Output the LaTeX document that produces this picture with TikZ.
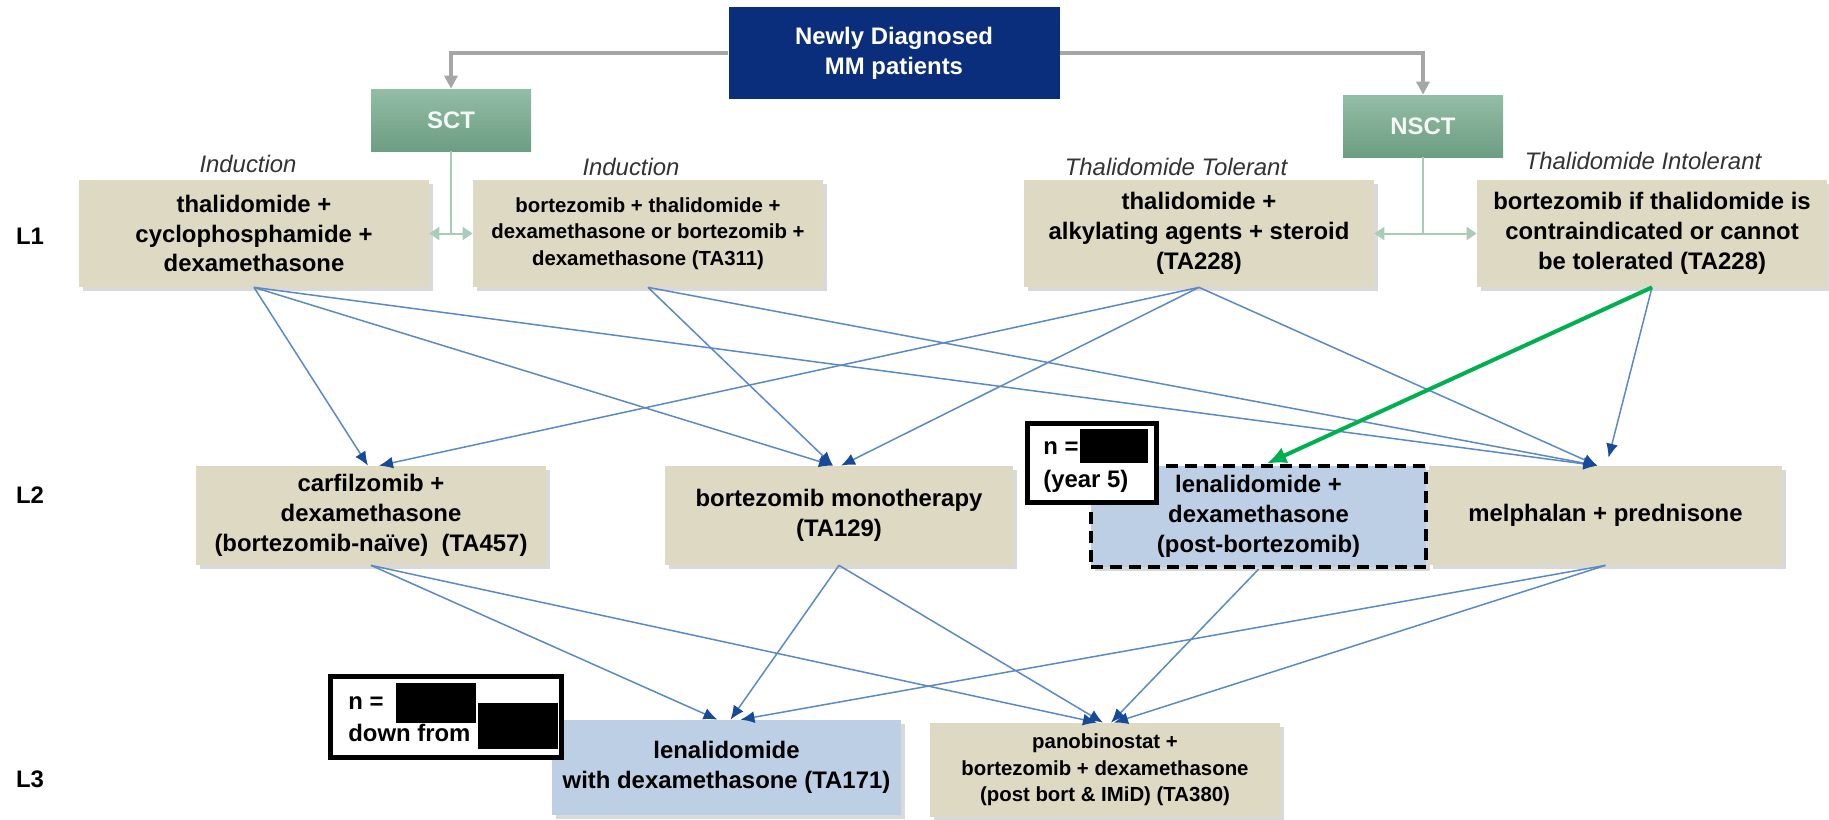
\documentclass[tikz,border=0pt]{standalone}
\usepackage{fontspec}
\setmainfont{Liberation Sans}
\usepackage{xcolor}
\usepackage{tikz}
\usetikzlibrary{shapes,arrows,positioning,calc,shadows,arrows.meta}

\definecolor{navy}{HTML}{0A2E7C}
\definecolor{tan}{HTML}{DDD9C3}
\definecolor{paleblue}{HTML}{BDCFE4}
\definecolor{armtop}{HTML}{93BDA6}
\definecolor{armbot}{HTML}{6C9D82}
\definecolor{armline}{HTML}{A9CCB9}
\definecolor{linkblue}{HTML}{5A89C4}
\definecolor{tipblue}{HTML}{174A98}
\definecolor{okgreen}{HTML}{00B050}
\definecolor{splitgray}{HTML}{A6A6A6}

\tikzset{
  bigtext/.style={font=\fontsize{13.6}{17}\selectfont\bfseries},
  smalltext/.style={font=\fontsize{11.6}{15}\selectfont\bfseries},
  tanbox/.style={fill=tan, align=center, inner sep=1mm, bigtext,
    drop shadow={shadow xshift=0.8mm, shadow yshift=-0.8mm, opacity=0.3}},
  bluebox/.style={tanbox, fill=paleblue},
  armbox/.style={top color=armtop, bottom color=armbot, text=white!90!armtop, bigtext,
    minimum width=32mm, minimum height=12.4mm},
  phase/.style={font=\fontsize{13.6}{17}\selectfont\itshape, text=black!80},
  lvl/.style={bigtext},
  link/.style={linkblue, line width=0.3mm, -{Latex[length=2.8mm,width=2.4mm,color=tipblue]}},
  split/.style={splitgray, line width=0.8mm, -{Triangle[length=2.6mm,width=2.6mm]}},
  armlink/.style={armline, line width=0.4mm},
  tag/.style={draw, line width=1mm, fill=white, inner sep=0pt}
}

\begin{document}
\begin{tikzpicture}[x=0.2mm, y=-0.2mm]
    \useasboundingbox (0,0) rectangle (1829,819);

    % top and the two arms
    \node [fill=navy, text=white, bigtext, align=center, minimum width=66.2mm, minimum height=18.4mm] (dx) at (894,53) {Newly Diagnosed\\MM patients};
    \node [armbox] (sct) at (451,120) {SCT};
    \node [armbox] (nsct) at (1423,126) {NSCT};
    \draw [split] (dx.west) -| (sct.north);
    \draw [split] (dx.east) -| (nsct.north);

    % L1
    \node [lvl] (l1) at (30,236) {L1};
    \node [tanbox, minimum width=70mm, minimum height=21.4mm] (tcd) at (254,233.5) {thalidomide +\\cyclophosphamide +\\dexamethasone};
    \node [tanbox, smalltext, minimum width=70mm, minimum height=21.4mm] (vtd) at (648,233.5) {bortezomib + thalidomide +\\dexamethasone or bortezomib +\\dexamethasone (TA311)};
    \node [tanbox, minimum width=70mm, minimum height=21.4mm] (tas) at (1199,233.5) {thalidomide +\\alkylating agents + steroid\\(TA228)};
    \node [tanbox, minimum width=70mm, minimum height=21.4mm] (bif) at (1652,233.5) {bortezomib if thalidomide is\\contraindicated or cannot\\be tolerated (TA228)};

    \node [phase] (ind1) at (248,164) {Induction};
    \node [phase] (ind2) at (631,167) {Induction};
    \node [phase] (tol) at (1176,167) {Thalidomide Tolerant};
    \node [phase] (intol) at (1643,161) {Thalidomide Intolerant};

    \draw [armlink] (sct.south) -- (sct.south |- tcd.east);
    \draw [armlink, {Triangle[length=2mm,width=2.6mm]}-{Triangle[length=2mm,width=2.6mm]}] (tcd.east) -- (vtd.west);
    \draw [armlink] (nsct.south) -- (nsct.south |- tas.east);
    \draw [armlink, {Triangle[length=2mm,width=2.6mm]}-{Triangle[length=2mm,width=2.6mm]}] (tas.east) -- (bif.west);

    % L2
    \node [lvl] (l2) at (30,495) {L2};
    \node [tanbox, minimum width=70mm, minimum height=19.8mm] (carf) at (371,515.5) {carfilzomib +\\dexamethasone\\(bortezomib-naïve)~~(TA457)};
    \node [tanbox, minimum width=69.6mm, minimum height=19.8mm] (bort) at (839,515.5) {bortezomib monotherapy\\(TA129)};
    \node [bluebox, draw=black, dashed, dash pattern=on 2.4mm off 1.4mm, line width=0.9mm, minimum width=67mm, minimum height=20.2mm] (lenb) at (1258.5,516.5) {lenalidomide +\\dexamethasone\\(post-bortezomib)};
    \node [tanbox, minimum width=70.6mm, minimum height=19.8mm] (melp) at (1605.5,515.5) {melphalan + prednisone};

    % L3
    \node [lvl] (l3) at (30,779) {L3};
    \node [bluebox, minimum width=69.8mm, minimum height=19mm] (lend) at (726.5,767.5) {lenalidomide\\with dexamethasone (TA171)};
    \node [tanbox, smalltext, minimum width=70mm, minimum height=18.8mm] (pano) at (1105,770) {panobinostat +\\bortezomib + dexamethasone\\(post bort \& IMiD) (TA380)};

    % L1 to L2
    \draw [link] (tcd.south) -- ($(carf.north)+(-3,0)$);
    \draw [link] (tcd.south) -- ($(bort.north)+(-6,0)$);
    \draw [link] (tcd.south) -- ($(melp.north)+(-8,0)$);
    \draw [link] (vtd.south) -- ($(bort.north)+(-6,0)$);
    \draw [link] (vtd.south) -- ($(melp.north)+(-8,0)$);
    \draw [link] (tas.south) -- ($(carf.north)+(8,0)$);
    \draw [link] (tas.south) -- ($(bort.north)+(2,0)$);
    \draw [link] (tas.south) -- ($(melp.north)+(-8,0)$);
    \draw [link] (bif.south) -- ($(melp.north)+(3,-8)$);
    \draw [okgreen, line width=0.8mm, -{Latex[length=4mm,width=3.4mm]}] (bif.south) -- ($(lenb.north)+(8,0)$);

    % L2 to L3
    \draw [link] (carf.south) -- ($(lend.north)+(-9,0)$);
    \draw [link] (carf.south) -- ($(pano.north)+(-8,0)$);
    \draw [link] (bort.south) -- ($(lend.north)+(4,0)$);
    \draw [link] (bort.south) -- ($(pano.north)+(-2,0)$);
    \draw [link] (lenb.south) -- ($(pano.north)+(6,0)$);
    \draw [link] (melp.south) -- ($(lend.north)+(14,0)$);
    \draw [link] (melp.south) -- ($(pano.north)+(9,0)$);

    % counts, blacked out
    \node [tag, minimum width=25.8mm, minimum height=15.8mm] (n2) at (1091.5,462.5) {};
    \fill (1080,429) rectangle (1148,463);
    \node [bigtext, anchor=west, inner sep=0pt] (n2a) at (1043,448) {n =};
    \node [bigtext, anchor=west, inner sep=0pt] (n2b) at (1043,481) {(year 5)};

    \node [tag, minimum width=46.2mm, minimum height=16.2mm] (n3) at (445.5,716.5) {};
    \fill (396,683) rectangle (476,723);
    \fill (478,703) rectangle (558,749);
    \node [bigtext, anchor=west, inner sep=0pt] (n3a) at (348,703) {n =};
    \node [bigtext, anchor=west, inner sep=0pt] (n3b) at (348,733) {down from};
\end{tikzpicture}
\end{document}
